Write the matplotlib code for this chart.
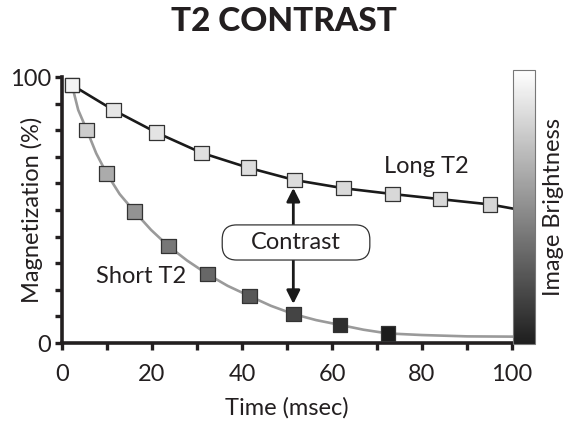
import matplotlib
matplotlib.use('Agg')
import matplotlib.pyplot as plt
from matplotlib.colors import LinearSegmentedColormap, Normalize
from matplotlib.cm import ScalarMappable
from matplotlib.patches import FancyBboxPatch

plt.rcParams['font.family'] = ['Lato', 'DejaVu Sans']

# Long T2 samples (time in msec, magnetization in %)
long_t = [2.2, 11.4, 21.0, 31.0, 41.4, 51.6, 62.5, 73.5, 84.0, 95.1]
long_m = [97.0, 87.6, 79.1, 71.5, 65.9, 61.3, 58.2, 56.0, 54.1, 52.1]
long_colors = ['#f4f4f4', '#e6e6e6', '#e4e4e4', '#e0e0e0', '#dedede',
               '#dcdcdc', '#dadada', '#d8d8d8', '#d8d8d8', '#d6d6d6']

# Short T2 samples
short_t = [2.2, 5.5, 9.9, 16.1, 23.6, 32.3, 41.6, 51.4, 61.8, 72.4]
short_m = [97.0, 80.1, 63.8, 49.4, 36.5, 25.9, 17.7, 10.9, 6.8, 3.6]
short_colors = ['#f4f4f4', '#cdcdcd', '#ababab', '#939393', '#777777',
                '#676767', '#575757', '#444444', '#2e2e2e', '#1c1c1c']

# decay curves
long_curve_t = [2.2, 11.4, 21.0, 31.0, 41.4, 51.6, 62.5, 73.5, 84.0, 95.1, 100]
long_curve_m = [97.0, 87.6, 79.1, 71.5, 65.9, 61.3, 58.2, 56.0, 54.1, 52.1, 50.6]
short_curve_t = [2.2, 3.6, 5.5, 7.6, 9.9, 12.8, 16.1, 19.8, 23.6, 27.8, 32.3,
                 36.8, 41.6, 46.4, 51.4, 56.5, 61.8, 67.0, 72.4, 80, 90, 100]
short_curve_m = [97.0, 87.6, 80.1, 71.3, 63.8, 56.0, 49.4, 42.5, 36.5, 31.0, 25.9,
                 21.5, 17.7, 14.0, 10.9, 8.6, 6.8, 5.0, 3.6, 3.0, 2.5, 2.4]

contrast_t = 51.4
contrast_top = 58.3
contrast_bottom = 14.7

TXT = '#231f20'

fig = plt.figure(figsize=(5.7, 4.25), dpi=100)
ax = fig.add_axes([0.1088, 0.1929, 0.7895, 0.6259])

ax.plot(long_curve_t, long_curve_m, color='#1a1a1a', lw=1.9, zorder=2, clip_on=False)
ax.plot(short_curve_t, short_curve_m, color='#9a9a9a', lw=1.9, zorder=2, clip_on=False)
ax.scatter(short_t, short_m, marker='s', s=110, c=short_colors,
           edgecolors='#333333', linewidths=0.9, zorder=4, clip_on=False)
ax.scatter(long_t, long_m, marker='s', s=110, c=long_colors,
           edgecolors='#333333', linewidths=0.9, zorder=5, clip_on=False)

# contrast arrow + rounded label
ax.annotate('', xy=(contrast_t, contrast_top), xytext=(contrast_t, contrast_bottom),
            arrowprops=dict(arrowstyle='<|-|>', color='#1a1a1a', lw=2,
                            mutation_scale=20, shrinkA=0, shrinkB=0), zorder=3)
box = FancyBboxPatch((35.6, 31.2), 32.8, 13.2,
                     boxstyle='round,pad=0,rounding_size=3.2', mutation_aspect=1.69,
                     fc='white', ec='#333333', lw=0.9, zorder=6)
ax.add_patch(box)
ax.text(52.0, 37.8, 'Contrast', ha='center', va='center', fontsize=17,
        color=TXT, zorder=7)

ax.text(80.9, 66.2, 'Long T2', ha='center', va='center', fontsize=17, color=TXT)
ax.text(17.6, 25.0, 'Short T2', ha='center', va='center', fontsize=17, color=TXT)

ax.set_xlim(0, 100)
ax.set_ylim(0, 100)
ax.set_xticks(range(0, 101, 10))
ax.set_xticklabels([str(v) if v % 20 == 0 else '' for v in range(0, 101, 10)])
ax.set_yticks(range(0, 101, 10))
ax.set_yticklabels(['0'] + [''] * 9 + ['100'])
ax.tick_params(direction='out', length=5, width=2.4, color=TXT,
               labelsize=17, labelcolor=TXT)
ax.tick_params(axis='x', pad=10)
ax.tick_params(axis='y', pad=3)
for side in ['top', 'right']:
    ax.spines[side].set_visible(False)
for side in ['left', 'bottom']:
    ax.spines[side].set_linewidth(2.6)
    ax.spines[side].set_color(TXT)

ax.set_xlabel('Time (msec)', fontsize=17, color=TXT)
ax.xaxis.set_label_coords(0.5, -0.205)
ax.set_ylabel('Magnetization (%)', fontsize=17, color=TXT)
ax.yaxis.set_label_coords(-0.042, 0.5)

fig.text(0.498, 0.949, 'T2 CONTRAST', ha='center', va='center', fontsize=24,
         fontweight='black', color=TXT)

# brightness bar
cax = fig.add_axes([0.8995, 0.1906, 0.039, 0.6447])
cmap = LinearSegmentedColormap.from_list('bright', ['#1e1e1e', '#ffffff'])
cb = fig.colorbar(ScalarMappable(norm=Normalize(0, 100), cmap=cmap), cax=cax)
cb.set_ticks([])
cb.outline.set_edgecolor('#777777')
cb.outline.set_linewidth(0.8)
fig.text(0.971, 0.514, 'Image Brightness', rotation=90, ha='center', va='center',
         fontsize=17, color=TXT)

fig.savefig('out.png', dpi=100)
